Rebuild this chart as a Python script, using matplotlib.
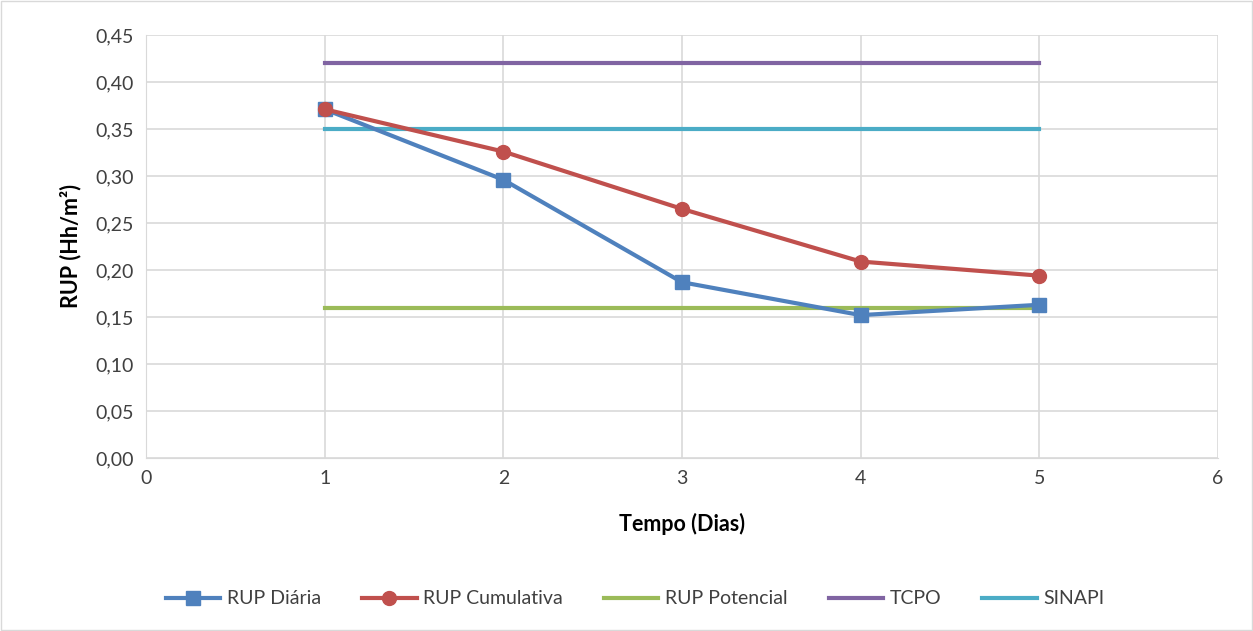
import matplotlib
matplotlib.use("Agg")
import matplotlib.pyplot as plt
from matplotlib.ticker import FuncFormatter, MultipleLocator

plt.rcParams["font.family"] = ["Lato", "DejaVu Sans"]

# data
dias = [1, 2, 3, 4, 5]
rup_diaria = [0.371, 0.296, 0.187, 0.152, 0.163]
rup_cumulativa = [0.371, 0.326, 0.265, 0.209, 0.194]
rup_potencial = [0.160, 0.160, 0.160, 0.160, 0.160]
tcpo = [0.420, 0.420, 0.420, 0.420, 0.420]
sinapi = [0.350, 0.350, 0.350, 0.350, 0.350]

fig = plt.figure(figsize=(12.53, 6.31), dpi=100)
ax = fig.add_axes([146 / 1253, 1 - 458 / 631, (1218 - 146) / 1253, (458 - 35) / 631])

ax.plot(dias, rup_potencial, color="#9bbb59", lw=3, label="RUP Potencial", zorder=3)
ax.plot(dias, tcpo, color="#8064a2", lw=3, label="TCPO", zorder=3)
ax.plot(dias, sinapi, color="#4bacc6", lw=3, label="SINAPI", zorder=3)
ax.plot(dias, rup_diaria, color="#4f81bd", lw=3, marker="s", ms=10, label="RUP Diária", zorder=4)
ax.plot(dias, rup_cumulativa, color="#c0504d", lw=3, marker="o", ms=10, label="RUP Cumulativa", zorder=5)

ax.set_xlim(0, 6)
ax.set_ylim(0, 0.45)
ax.xaxis.set_major_locator(MultipleLocator(1))
ax.yaxis.set_major_locator(MultipleLocator(0.05))
ax.yaxis.set_major_formatter(FuncFormatter(lambda v, p: f"{v:.2f}".replace(".", ",")))
ax.grid(True, color="#d9d9d9", lw=1.2)
ax.set_axisbelow(True)
for s in ["top", "right"]:
    ax.spines[s].set_visible(False)
ax.spines["left"].set_color("#d9d9d9")
ax.spines["bottom"].set_color("#d9d9d9")
ax.tick_params(length=0, labelsize=14, colors="#404040", pad=9)

ax.set_xlabel("Tempo (Dias)", fontsize=15.5, fontweight="bold", labelpad=18)
ax.set_ylabel("RUP (Hh/m²)", fontsize=15.5, fontweight="bold", labelpad=10)

handles, labels = ax.get_legend_handles_labels()
order = [3, 4, 0, 1, 2]
fig.legend([handles[i] for i in order], [labels[i] for i in order],
           loc="center", bbox_to_anchor=(0.507, 1 - 599 / 631), ncol=5, frameon=False,
           fontsize=14, handlelength=2.8, handletextpad=0.35, columnspacing=2.1,
           labelcolor="#404040")

fig.patches.append(plt.Rectangle((0.001, 0.001), 0.998, 0.998, transform=fig.transFigure,
                                 fill=False, edgecolor="#d9d9d9", lw=1))
fig.savefig("out.png", dpi=100)
